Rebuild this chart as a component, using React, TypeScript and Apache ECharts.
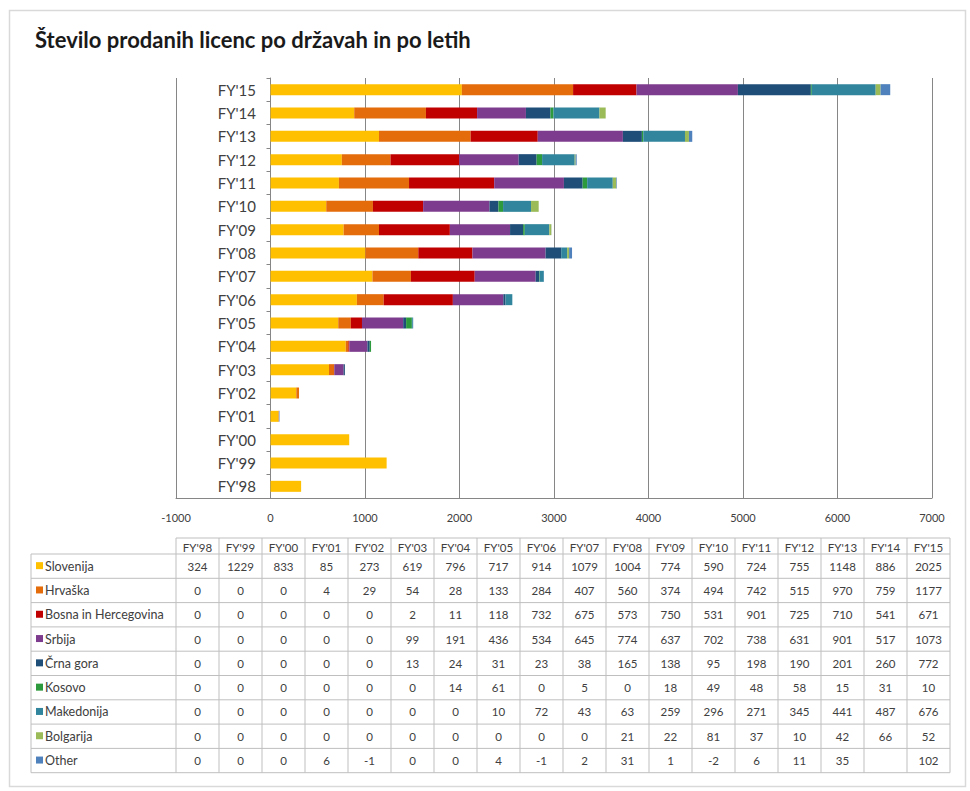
import React, { useEffect, useRef } from "react";
import * as echarts from "echarts";

const categories = ["FY'98", "FY'99", "FY'00", "FY'01", "FY'02", "FY'03", "FY'04", "FY'05", "FY'06", "FY'07", "FY'08", "FY'09", "FY'10", "FY'11", "FY'12", "FY'13", "FY'14", "FY'15"];

const seriesNames = ["Slovenija", "Hrvaška", "Bosna in Hercegovina", "Srbija", "Črna gora", "Kosovo", "Makedonija", "Bolgarija", "Other"];
const seriesColors = ["#FFC000", "#E46C0A", "#C00000", "#7E3C8E", "#1F4E79", "#2E9A3E", "#31859C", "#9BBB59", "#4F81BD"];

const slovenija = [324, 1229, 833, 85, 273, 619, 796, 717, 914, 1079, 1004, 774, 590, 724, 755, 1148, 886, 2025];
const hrvaska = [0, 0, 0, 4, 29, 54, 28, 133, 284, 407, 560, 374, 494, 742, 515, 970, 759, 1177];
const bosna = [0, 0, 0, 0, 0, 2, 11, 118, 732, 675, 573, 750, 531, 901, 725, 710, 541, 671];
const srbija = [0, 0, 0, 0, 0, 99, 191, 436, 534, 645, 774, 637, 702, 738, 631, 901, 517, 1073];
const crnaGora = [0, 0, 0, 0, 0, 13, 24, 31, 23, 38, 165, 138, 95, 198, 190, 201, 260, 772];
const kosovo = [0, 0, 0, 0, 0, 0, 14, 61, 0, 5, 0, 18, 49, 48, 58, 15, 31, 10];
const makedonija = [0, 0, 0, 0, 0, 0, 0, 10, 72, 43, 63, 259, 296, 271, 345, 441, 487, 676];
const bolgarija = [0, 0, 0, 0, 0, 0, 0, 0, 0, 0, 21, 22, 81, 37, 10, 42, 66, 52];
const other = [0, 0, 0, 6, -1, 0, 0, 4, -1, 2, 31, 1, -2, 6, 11, 35, null, 102];

const seriesValues = [slovenija, hrvaska, bosna, srbija, crnaGora, kosovo, makedonija, bolgarija, other];

const xTicks = { min: -1000, max: 7000, interval: 1000 };

export default function App() {
  const ref = useRef<HTMLDivElement>(null);
  useEffect(() => {
    if (!ref.current) return;
    const chart = echarts.init(ref.current, null, { renderer: "svg" });
    const font = "Lato, 'Open Sans', sans-serif";
    const textColor = "#404040";
    const lineColor = "#BFBFBF";

    // table geometry
    const tLeft = 31;
    const labelRight = 176;
    const colW = 43;
    const headTop = 538;
    const headBottom = 554;
    const rowH = 24.3;
    const tRight = labelRight + colW * categories.length;
    const tBottom = headBottom + rowH * seriesNames.length;

    const g: any[] = [];
    // outer frame
    g.push({ type: "rect", shape: { x: 9.5, y: 10.5, width: 956, height: 776 }, style: { fill: "none", stroke: "#D9D9D9", lineWidth: 1.5 } });
    // horizontal lines
    g.push({ type: "line", shape: { x1: labelRight, y1: headTop, x2: tRight, y2: headTop }, style: { stroke: lineColor, lineWidth: 1 } });
    for (let r = 0; r <= seriesNames.length; r++) {
      const y = headBottom + r * rowH;
      g.push({ type: "line", shape: { x1: tLeft, y1: y, x2: tRight, y2: y }, style: { stroke: lineColor, lineWidth: 1 } });
    }
    // vertical lines
    g.push({ type: "line", shape: { x1: tLeft, y1: headBottom, x2: tLeft, y2: tBottom }, style: { stroke: lineColor, lineWidth: 1 } });
    for (let c = 0; c <= categories.length; c++) {
      const x = labelRight + c * colW;
      g.push({ type: "line", shape: { x1: x, y1: headTop, x2: x, y2: tBottom }, style: { stroke: lineColor, lineWidth: 1 } });
    }
    // header texts
    categories.forEach((cat, c) => {
      g.push({ type: "text", x: labelRight + c * colW + colW / 2, y: (headTop + headBottom) / 2 + 1, style: { text: cat, fill: textColor, font: `11.5px ${font}`, align: "center", verticalAlign: "middle" } });
    });
    // rows
    seriesNames.forEach((name, r) => {
      const cy = headBottom + r * rowH + rowH / 2;
      g.push({ type: "rect", shape: { x: 36, y: cy - 4, width: 7, height: 7 }, style: { fill: seriesColors[r] } });
      g.push({ type: "text", x: 45, y: cy, style: { text: name, fill: textColor, font: `12.5px ${font}`, align: "left", verticalAlign: "middle" } });
      seriesValues[r].forEach((v, c) => {
        g.push({ type: "text", x: labelRight + c * colW + colW / 2, y: cy, style: { text: v === null ? "" : String(v), fill: textColor, font: `11.5px ${font}`, align: "center", verticalAlign: "middle" } });
      });
    });

    chart.setOption({
      animation: false,
      backgroundColor: "#ffffff",
      title: {
        text: "Število prodanih licenc po državah in po letih",
        left: 30,
        top: 23,
        textStyle: { fontFamily: font, fontSize: 22, fontWeight: "bold", color: "#1a1a1a" },
      },
      grid: { left: 176, right: 38, top: 78, bottom: 293, containLabel: false },
      xAxis: {
        type: "value",
        min: xTicks.min,
        max: xTicks.max,
        interval: xTicks.interval,
        axisLine: { show: true, lineStyle: { color: "#868686" } },
        axisTick: { show: false },
        axisLabel: { fontFamily: font, fontSize: 11, color: textColor, margin: 14, formatter: (v: number) => String(v) },
        splitLine: { show: true, lineStyle: { color: "#868686", width: 1 } },
      },
      yAxis: {
        type: "category",
        data: categories,
        axisLine: { show: true, onZero: true, lineStyle: { color: "#868686" } },
        axisTick: { show: true, length: 4, lineStyle: { color: "#868686" } },
        axisLabel: { fontFamily: font, fontSize: 15, color: textColor, margin: -80, align: "right" },
      },
      series: seriesNames.map((name, i) => ({
        name,
        type: "bar",
        stack: "total",
        barWidth: 11,
        itemStyle: { color: seriesColors[i] },
        data: seriesValues[i],
      })),
      graphic: g,
    });
    return () => chart.dispose();
  }, []);
  return <div ref={ref} style={{ position: "fixed", left: 0, top: 0, width: 970, height: 791 }} />;
}
